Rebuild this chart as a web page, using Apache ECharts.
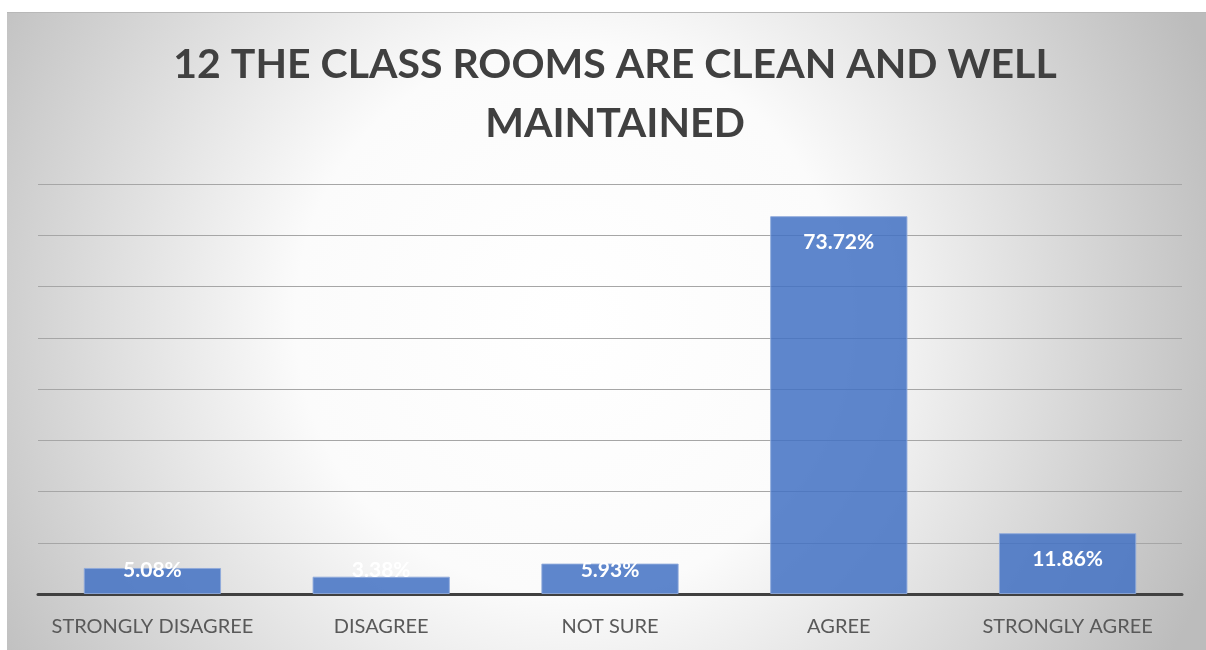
<!DOCTYPE html>
<html>
<head>
<meta charset="utf-8">
<script src="https://cdn.jsdelivr.net/npm/echarts@6/dist/echarts.min.js"></script>
<style>
  html, body { margin: 0; padding: 0; background: #ffffff; }
  #chart { position: absolute; left: 7px; top: 12px; width: 1199px; height: 638px;
           border-top: 1px solid #b8b8b8; box-sizing: border-box; }
</style>
</head>
<body>
<div id="chart"></div>
<script>
const titleLines = ['12 THE CLASS ROOMS ARE CLEAN AND WELL', 'MAINTAINED'];
const categories = ['STRONGLY DISAGREE', 'DISAGREE', 'NOT SURE', 'AGREE', 'STRONGLY AGREE'];
const percentages = [5.08, 3.38, 5.93, 73.72, 11.86];
const axisMax = 80;
const axisStep = 10;

const chart = echarts.init(document.getElementById('chart'));

// plot height in px, used to decide where each value label sits
const plotHeight = 638 - 171 - 56;

const barData = percentages.map(v => {
  const h = v / axisMax * plotHeight;
  const label = h < 45
    ? { position: 'insideBottom', distance: 13 }
    : { position: 'insideTop', distance: 16 };
  return { value: v, label };
});

chart.setOption({
  backgroundColor: {
    type: 'radial', x: 0.47, y: 0.48, r: 1.08,
    colorStops: [
      { offset: 0, color: '#ffffff' },
      { offset: 0.4, color: '#fbfbfb' },
      { offset: 1, color: '#bcbcbc' }
    ]
  },
  title: {
    text: titleLines.join('\n'),
    left: 603, top: 17, textAlign: 'center',
    textStyle: {
      fontFamily: 'Lato', fontWeight: 'bold', fontSize: 41,
      color: '#404040', lineHeight: 59
    }
  },
  grid: { left: 31, right: 24, top: 171, bottom: 56 },
  xAxis: {
    type: 'category',
    data: categories,
    axisLine: { lineStyle: { color: '#404040', width: 3 } },
    axisTick: { show: false },
    axisLabel: { interval: 0, color: '#595959', fontFamily: 'Lato', fontSize: 20, margin: 23 }
  },
  yAxis: {
    type: 'value',
    min: 0, max: axisMax, interval: axisStep,
    axisLabel: { show: false },
    axisLine: { show: false },
    axisTick: { show: false },
    splitLine: { lineStyle: { color: '#a6a6a6', width: 1 } }
  },
  series: [{
    type: 'bar',
    data: barData,
    barWidth: '60%',
    itemStyle: { color: 'rgba(68,114,196,0.86)', borderColor: 'rgba(143,170,220,0.9)', borderWidth: 1 },
    label: {
      show: true,
      color: '#ffffff',
      fontFamily: 'Lato', fontWeight: 'bold', fontSize: 21,
      formatter: p => p.value.toFixed(2) + '%'
    }
  }]
});
</script>
</body>
</html>
